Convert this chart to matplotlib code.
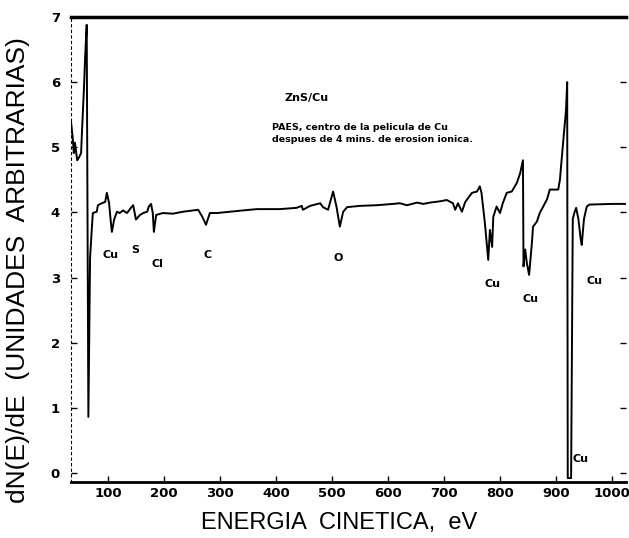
import matplotlib.pyplot as plt

# Auger spectrum (PAES)
energy = [34, 37, 39, 41, 45, 48, 52, 54, 57, 59, 62, 65, 68, 71, 73, 80, 82, 89,
          95, 98, 102, 105, 107, 111, 116, 121, 127, 134, 141, 145, 150, 157, 163,
          170, 173, 177, 180, 182, 186, 198, 216, 234, 252, 261, 268, 275, 282, 295,
          318, 341, 366, 389, 407, 437, 446, 448, 461, 479, 484, 493, 502, 508, 514,
          520, 527, 550, 580, 609, 621, 634, 652, 663, 675, 693, 705, 716, 720, 725,
          732, 738, 750, 759, 764, 767, 773, 779, 782, 786, 788, 794, 800, 805, 812,
          821, 830, 836, 841, 842, 845, 848, 852, 857, 859, 866, 871, 884, 889, 904,
          907, 912, 918, 920, 921, 927, 930, 933, 936, 940, 944, 946, 950, 955, 960,
          1000, 1025]
signal = [5.39, 5.15, 4.91, 5.07, 4.80, 4.84, 4.91, 5.32, 5.88, 6.34, 6.88, 0.86, 3.30,
          3.73, 3.99, 4.01, 4.11, 4.14, 4.16, 4.30, 4.14, 3.86, 3.70, 3.89, 4.01, 3.99,
          4.03, 3.99, 4.07, 4.11, 3.89, 3.96, 3.99, 4.01, 4.09, 4.13, 3.99, 3.70, 3.96,
          3.99, 3.98, 4.01, 4.03, 4.04, 3.94, 3.81, 3.99, 3.99, 4.01, 4.03, 4.05, 4.05,
          4.05, 4.07, 4.10, 4.04, 4.10, 4.14, 4.08, 4.04, 4.32, 4.09, 3.78, 4.01, 4.08,
          4.10, 4.11, 4.13, 4.14, 4.11, 4.15, 4.13, 4.15, 4.17, 4.19, 4.14, 4.04, 4.14,
          4.01, 4.16, 4.30, 4.32, 4.40, 4.30, 3.84, 3.27, 3.73, 3.47, 3.93, 4.09, 3.99,
          4.14, 4.30, 4.32, 4.45, 4.60, 4.80, 3.17, 3.43, 3.22, 3.04, 3.53, 3.78, 3.86,
          3.99, 4.20, 4.35, 4.35, 4.50, 5.00, 5.58, 6.00, -0.08, -0.08, 3.90, 4.00, 4.07,
          3.90, 3.60, 3.50, 3.90, 4.09, 4.12, 4.13, 4.13]

peak_labels = ["Cu", "S", "Cl", "C", "O", "Cu", "Cu", "Cu", "Cu"]
peak_x = [104, 148, 188, 277, 511, 786, 855, 968, 944]
peak_y = [3.35, 3.42, 3.20, 3.35, 3.30, 2.90, 2.67, 2.95, 0.22]

fig = plt.figure(figsize=(6.29, 5.38), dpi=100)
ax = fig.add_axes([0.1129, 0.1041, 0.9952 - 0.1129, 0.9684 - 0.1041])

ax.plot(energy, signal, color="black", lw=1.4)

for lab, x, y in zip(peak_labels, peak_x, peak_y):
    ax.text(x, y, lab, fontsize=8, fontweight="bold", ha="center", va="center")

ax.text(455, 5.76, "ZnS/Cu", fontsize=8, fontweight="bold", ha="center", va="center")
ax.text(393, 5.21, "PAES, centro de la pelicula de Cu\ndespues de 4 mins. de erosion ionica.",
        fontsize=6.8, fontweight="bold", ha="left", va="center", linespacing=1.45)

ax.set_xlim(34, 1025)
ax.set_ylim(-0.14, 7.0)
ax.set_xticks(range(100, 1001, 100))
ax.set_yticks(range(0, 8))
ax.tick_params(direction="in", length=4, labelsize=9.5, width=1)
ax.tick_params(axis="y", right=True, pad=8)
for lab in ax.get_xticklabels() + ax.get_yticklabels():
    lab.set_fontweight("bold")

ax.spines["top"].set_linewidth(2.5)
ax.spines["bottom"].set_linewidth(2)
ax.spines["left"].set_linewidth(0.8)
ax.spines["left"].set_linestyle((0, (2, 3)))
ax.spines["right"].set_visible(False)

ax.set_xlabel("ENERGIA  CINETICA,  eV", fontsize=17, family="Liberation Sans")
ax.xaxis.set_label_coords(0.483, -0.064)
ax.set_ylabel("dN(E)/dE  (UNIDADES  ARBITRARIAS)", fontsize=19, family="Liberation Sans")
ax.yaxis.set_label_coords(-0.074, 0.455)

fig.savefig("out.png", dpi=100)
